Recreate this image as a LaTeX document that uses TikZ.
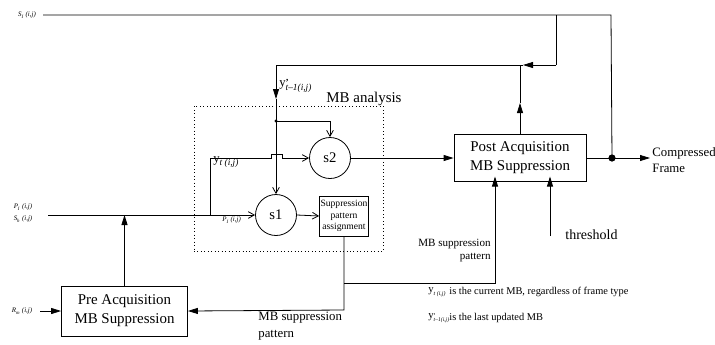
\documentclass[tikz,border=0pt]{standalone}
\usepackage{fontspec}
\setmainfont{Liberation Serif}
\usetikzlibrary{arrows.meta,calc}
\newcommand\ysub[2]{\raisebox{-0.3em}{\fontsize{#1}{#1}\selectfont\itshape #2}}
\newcommand\myyt[1]{y\ysub{#1}{t (i,j)}}
\newcommand\myyprime[1]{y\rlap{\raisebox{0.12em}{\fontsize{#1}{#1}\selectfont\bfseries '}}\ysub{#1}{t--1(i,j)}}
\tikzset{
  box/.style={draw, inner sep=0pt, align=center, font=\fontsize{11.2}{14.25}\selectfont},
  circ/.style={draw, circle, minimum size=30.75pt, inner sep=0pt, font=\fontsize{11}{13}\selectfont},
  arr/.style={-{Triangle[length=7.5pt,width=4.5pt]}},
  barb/.style={-{Straight Barb[length=4.5pt,width=5pt]}},
  tinylab/.style={font=\fontsize{5.2}{8}\selectfont\itshape, align=left, inner sep=1pt},
  legend/.style={font=\fontsize{7.8}{9}\selectfont, anchor=west, inner sep=0pt},
  lab/.style={inner sep=0pt, align=left}
}
\begin{document}
\begin{tikzpicture}[x=0.75pt,y=-0.75pt,line width=0.6pt]
\useasboundingbox (0,0) rectangle (715,344);

% blocks
\node[box, minimum width=94.5pt, minimum height=37.5pt] (pre) at (124.5,311) {Pre Acquisition\\MB Suppression};
\node[box, minimum width=99pt, minimum height=35.25pt] (post) at (520,158) {Post Acquisition\\MB Suppression};
\node[box, font=\fontsize{7.2}{8.6}\selectfont, minimum width=36.75pt, minimum height=30pt] (spa) at (344,216) {Suppression\\pattern\\assignment};
\node[circ] (s1) at (276,215) {s1};
\node[circ] (s2) at (330,158) {s2};
\node[draw, dotted, minimum width=141.75pt, minimum height=108.75pt, inner sep=0pt] (mba) at (288.5,178.5) {};
\node[lab, anchor=base, font=\fontsize{11.2}{13}\selectfont] (mbalab) at (364,102) {MB analysis};

% small input labels
\node[tinylab] (sI) at (27,15) {S\textsubscript{I} (i,j)};
\node[tinylab] (pI) at (23,213) {P\textsubscript{I} (i,j)\\[1pt]S\textsubscript{h} (i,j)};
\node[tinylab] (rm) at (22,311) {R\textsubscript{m} (i,j)};

% coordinates
\coordinate (tl) at (43,15);
\coordinate (tr) at (611,15);
\coordinate (tm) at (556,15);
\coordinate (fb) at (556,65);
\coordinate (fm) at (523,65);
\coordinate (fl) at (276,65);
\coordinate (fa) at (276,99);
\coordinate (d1) at (276,121);
\coordinate (s2t) at (330,121);
\coordinate (pu) at (520,103);
\coordinate (pt) at (520,65);
\coordinate (jn) at (612,158);
\coordinate (out) at (650,158);
\coordinate (in) at (48,215);
\coordinate (yb) at (210,215);
\coordinate (yt) at (210,158);
\coordinate (bu1) at (271,158);
\coordinate (bu2) at (271,154);
\coordinate (bu3) at (282,154);
\coordinate (bu4) at (282,158);
\coordinate (pin) at (40,311);
\coordinate (sb) at (344,310);
\coordinate (br) at (344,283);
\coordinate (br2) at (495,283);
\coordinate (pb) at (495,176.5);
\coordinate (thr) at (550,236);
\coordinate (tht) at (550,176.5);
\coordinate (prt) at (124.5,215);

% connectors
\draw (tl) -- (tr) -- (jn);
\draw (tm) -- (fb);
\draw[arr] (fb) -- (fm);
\draw (fm) -- (fl);
\draw[arr] (fl) -- (fa);
\draw[barb] (fa) -- (s1.north);
\fill (d1) circle (1.6);
\draw[barb] (d1) -- (s2t) -- (s2.north);
\draw[arr] (post.north) -- (pu);
\draw (pu) -- (pt);

\draw[barb] (in) -- (s1.west);
\draw[barb] (yb) -- (yt) -- (bu1) -- (bu2) -- (bu3) -- (bu4) -- (s2.west);
\draw[arr] (pre.north) -- (prt);
\draw[barb] (s1.east) -- (spa.west);
\draw[arr] (spa.south) -- (sb) -- (pre.east);
\draw[arr] (br) -- (br2) -- (pb);
\draw[arr] (thr) -- (tht);
\draw[arr] (s2.east) -- (post.west);
\draw[arr] (post.east) -- (out);
\fill (jn) circle (3.6);
\draw[arr] (pin) -- (pre.west);

% labels
\node[lab, anchor=west, font=\fontsize{9.5}{12}\selectfont] (ylab1) at (279,86) {\myyprime{7}};
\node[lab, anchor=west, font=\fontsize{9.5}{12}\selectfont] (ylab2) at (213,162) {\myyt{7}};
\node[lab, anchor=west, font=\fontsize{5.2}{6}\selectfont\itshape] (pIs) at (222,220) {P\textsubscript{I} (i,j)};
\node[lab, anchor=north east, align=right, font=\fontsize{8.3}{9.2}\selectfont] (msp2) at (491,239) {MB suppression\\pattern};
\node[lab, anchor=north west, font=\fontsize{9.6}{12.5}\selectfont] (msp1) at (258,312) {MB suppression\\pattern};
\node[lab, anchor=west, font=\fontsize{10.5}{12}\selectfont] (thlab) at (565,235) {threshold};
\node[lab, anchor=west, font=\fontsize{9.6}{12}\selectfont] (cf) at (652,160) {Compressed\\Frame};

% legend
\node[legend, font=\fontsize{8}{9}\selectfont] (l1) at (428,292) {\myyt{4.4}};
\node[legend] (l1t) at (449,292) {is the current MB, regardless of frame type};
\node[legend, font=\fontsize{8}{9}\selectfont] (l2) at (428,318) {\myyprime{4.2}};
\node[legend] (l2t) at (449,318) {is the last updated MB};
\end{tikzpicture}
\end{document}
